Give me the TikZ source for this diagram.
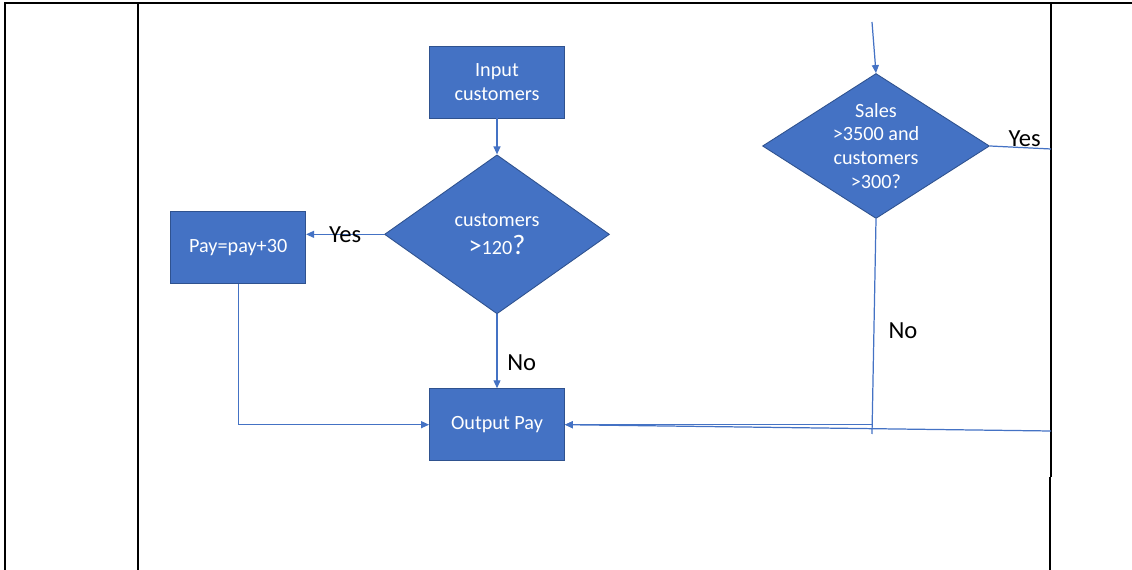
\documentclass[tikz,border=0pt]{standalone}
\usepackage{fontspec}
\setmainfont{Carlito}
\usetikzlibrary{arrows.meta,positioning,shapes.geometric}
\definecolor{officeblue}{HTML}{4472C4}
\definecolor{officeedge}{HTML}{2F528F}

\begin{document}
\begin{tikzpicture}[
				x=0.02cm,y=-0.02cm,
				every node/.style={font=\fontsize{11.5}{13.6}\selectfont},
				box/.style={
					draw=officeedge,
					fill=officeblue,
					text=white,
					align=center,
					minimum width=2.7cm,
					minimum height=1.44cm,
					line width=0.5pt
				},
				decision/.style={
					diamond,
					draw=officeedge,
					fill=officeblue,
					text=white,
					align=center,
					inner sep=0pt,
					line width=0.5pt
				},
				answer/.style={
					font=\fontsize{14}{16}\selectfont,
					text=black,
					inner sep=2pt
				},
				arrow/.style={
					draw=officeblue,
					-{Triangle[length=1.6mm,width=1.4mm]},
					line width=0.7pt
				},
				link/.style={
					draw=officeblue,
					line width=0.7pt
				},
				frame/.style={line width=1.2pt},
				thinframe/.style={line width=0.6pt}
				]
				\useasboundingbox (0,0) rectangle (1132,570);
				
				\draw[frame] (5,570) -- (5,3) -- (150,3);
				\draw[thinframe] (150,3) -- (1051,3);
				\draw[frame] (1051,3) -- (1132,3);
				\draw[frame] (138,3) -- (138,570);
				\draw[thinframe] (1051,3) -- (1051,477);
				\draw[frame] (1050,477) -- (1050,570);
				
				\node[box] (input) at (497,82) {Input\\customers};
				\node[decision,shape aspect=1.415,minimum width=4.5cm,minimum height=3.18cm,
					below=0.72cm of input] (check)
				{customers\\[2pt]{\fontsize{15}{15}\selectfont>}120{\fontsize{16}{16}\selectfont?}};
				\node[box,below=1.48cm of check] (output) {Output Pay};
				\node[box,left=1.56cm of check,yshift=-0.26cm] (raise) {Pay=pay+30};
				
				\node[decision,shape aspect=1.57,minimum width=4.54cm,minimum height=2.9cm]
				(sales) at (876,146) {Sales\\>3500 and\\customers\\>300?};
				\coordinate (incoming) at (872,22);
				\coordinate (yesend) at (1051,149);
				\coordinate (noend) at (872,434);
				\coordinate (fromright) at (1051,431);
				
				\draw[arrow] (input) -- (check);
				\draw[arrow] (check.west) -- node[answer] {Yes} (check.west -| raise.east);
				\draw[arrow] (check) -- node[answer,right,pos=0.66,inner sep=5.5pt] {No} (output);
				\draw[arrow] (raise.south) |- (output.west);
				
				\draw[arrow] (incoming) -- (sales.north);
				\draw[link] (sales.east) -- node[answer,above,pos=0.57,inner sep=0pt] {Yes} (yesend);
				\draw[link] (sales.south) -- node[answer,right,pos=0.52,inner sep=8pt] {No} (noend);
				\draw[arrow] (noend |- output.east) -- (output.east);
				\draw[arrow] (fromright) -- (output.east);
			\end{tikzpicture}
\end{document}
